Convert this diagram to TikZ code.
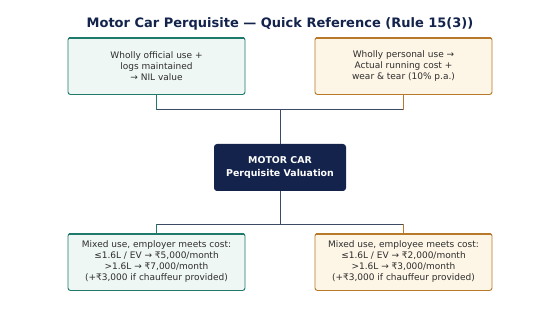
\documentclass[tikz,border=0pt]{standalone}
\usepackage{fontspec}
\setmainfont{DejaVu Sans}
\definecolor{tealc}{HTML}{1F7A6C}
\definecolor{tealf}{HTML}{EEF7F3}
\definecolor{orc}{HTML}{B8792A}
\definecolor{orf}{HTML}{FDF5E6}
\definecolor{navy}{HTML}{13234B}
\definecolor{linec}{HTML}{3C4A66}
\begin{document}
\begin{tikzpicture}[x=1pt,y=-1pt,
  infobox/.style={draw, line width=0.9pt, rounded corners=2.5pt, minimum width=177pt, minimum height=57pt, align=center, font=\fontsize{9}{11}\selectfont, text=black!82, inner sep=2pt},
  greenbox/.style={infobox, draw=tealc, fill=tealf},
  orangebox/.style={infobox, draw=orc, fill=orf},
  centerbox/.style={fill=navy, rounded corners=3pt, minimum width=132pt, minimum height=47pt, align=center, text=white, font=\fontsize{9.4}{13}\selectfont\bfseries},
  conn/.style={line width=1pt}
]
\useasboundingbox (0,0) rectangle (560,336);
\fill[white] (0,0) rectangle (560,336);
\node[font=\fontsize{13}{15}\selectfont\bfseries, text=navy] (title) at (280,24) {Motor Car Perquisite — Quick Reference (Rule 15(3))};
\node[greenbox] (tl) at (156.5,66) {Wholly official use +\\logs maintained\\→ NIL value};
\node[orangebox] (tr) at (403.5,66) {Wholly personal use →\\Actual running cost +\\wear \& tear (10\% p.a.)};
\node[centerbox] (c) at (280,167.5) {MOTOR CAR\\Perquisite Valuation};
\node[greenbox] (bl) at (156.5,262) {Mixed use, employer meets cost:\\≤1.6L / EV → ₹5,000/month\\>1.6L → ₹7,000/month\\(+₹3,000 if chauffeur provided)};
\node[orangebox] (br) at (403.5,262) {Mixed use, employee meets cost:\\≤1.6L / EV → ₹2,000/month\\>1.6L → ₹3,000/month\\(+₹3,000 if chauffeur provided)};
% thick top borders
\foreach \n/\col in {tl/tealc,tr/orc,bl/tealc,br/orc}{
  \draw[\col, line width=2.6pt] ([xshift=1.5pt,yshift=-0.9pt]\n.north west) -- ([xshift=-1.5pt,yshift=-0.9pt]\n.north east);
}
% connectors
\coordinate (jt) at (280,110);
\coordinate (jb) at (280,224.5);
\draw[conn, linec] (tl.south |- jt) -- (tr.south |- jt);
\draw[conn, linec] (jt) -- (c.north);
\draw[conn, tealc] (tl.south) -- (tl.south |- jt);
\draw[conn, orc] (tr.south) -- (tr.south |- jt);
\draw[conn, linec] (bl.north |- jb) -- (br.north |- jb);
\draw[conn, linec] (c.south) -- (jb);
\draw[conn, tealc] (bl.north |- jb) -- (bl.north);
\draw[conn, orc] (br.north |- jb) -- (br.north);
\end{tikzpicture}
\end{document}
